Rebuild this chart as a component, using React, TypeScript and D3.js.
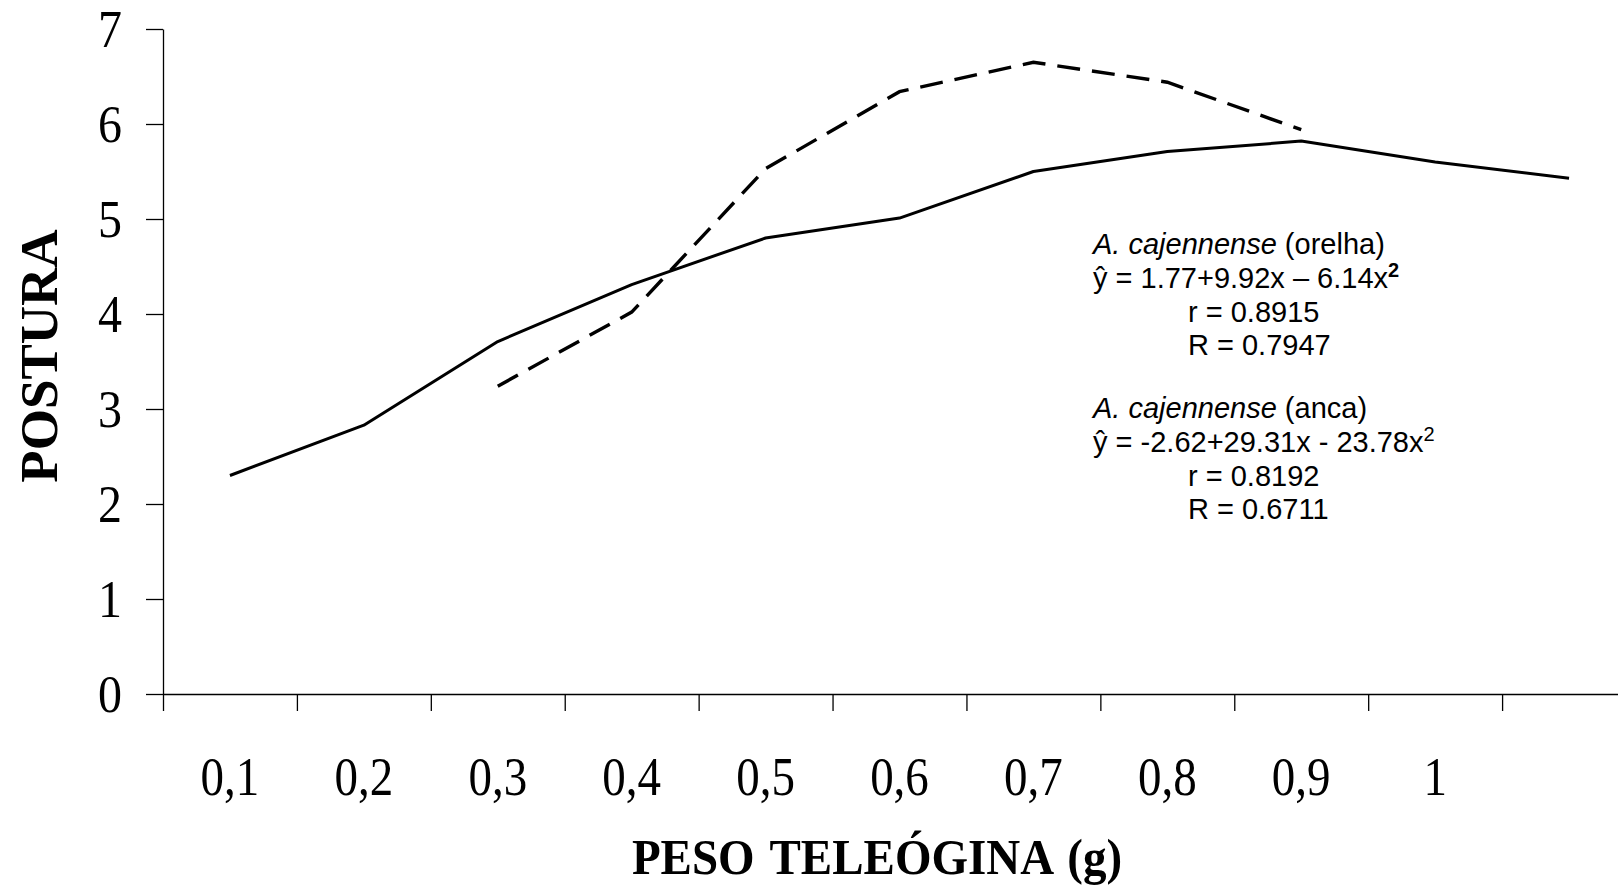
import React, { useRef, useEffect } from 'react'
import * as d3 from 'd3'

// categories on the x axis (the 11th has no label, it is cut at the right edge)
const categories = ['0,1', '0,2', '0,3', '0,4', '0,5', '0,6', '0,7', '0,8', '0,9', '1', '']
// solid line: A. cajennense (orelha)
const orelha = [2.3, 2.83, 3.71, 4.31, 4.8, 5.01, 5.5, 5.71, 5.82, 5.6, 5.43]
// dashed line: A. cajennense (anca)
const anca = [null, null, 3.24, 4.02, 5.53, 6.34, 6.65, 6.44, 5.94, null, null]
const yTicks = [0, 1, 2, 3, 4, 5, 6, 7]

const notes = [
  { species: 'A. cajennense', site: ' (orelha)', eq: 'ŷ = 1.77+9.92x – 6.14x', supBold: true, r: 'r = 0.8915', R: 'R = 0.7947' },
  { species: 'A. cajennense', site: ' (anca)', eq: 'ŷ = -2.62+29.31x - 23.78x', supBold: false, r: 'r = 0.8192', R: 'R = 0.6711' },
]

export default function App() {
  const svgRef = useRef<SVGSVGElement>(null)
  const width = 1618
  const height = 887

  useEffect(() => {
    const svg = d3.select(svgRef.current)
    svg.selectAll('*').remove()

    const left = 163, right = 1636, top = 29, bottom = 694

    // x: category index, ticks on the boundaries
    const xi = d3.scaleLinear().domain([0, categories.length]).range([left, right])
    const y = d3.scaleLinear().domain([0, 7]).range([bottom, top])

    // axes
    const yAx = svg.append('g')
      .attr('transform', `translate(${left},0)`)
      .call(d3.axisLeft(y).tickValues(yTicks).tickSize(17).tickSizeOuter(0).tickFormat(() => ''))
    const xAx = svg.append('g')
      .attr('transform', `translate(0,${bottom})`)
      .call(d3.axisBottom(xi).tickValues(d3.range(categories.length + 1)).tickSize(17).tickSizeOuter(0).tickFormat(() => ''))
    ;[yAx, xAx].forEach(a => {
      a.selectAll('path, line').attr('stroke', '#000').attr('stroke-width', 1.3)
    })

    // y tick labels
    svg.append('g').selectAll('g')
      .data(yTicks)
      .join('g')
        .attr('transform', d => `translate(122,${y(d) + 18})`)
      .append('text')
        .attr('text-anchor', 'end')
        .attr('transform', 'scale(1,1.12)')
        .style('font-family', '"Liberation Serif", "Times New Roman", serif')
        .style('font-size', '48px')
        .text(d => d)

    // x tick labels
    svg.append('g').selectAll('g')
      .data(categories)
      .join('g')
        .attr('transform', (d, i) => `translate(${xi(i + 0.5)},795)`)
      .append('text')
        .attr('text-anchor', 'middle')
        .attr('transform', 'scale(1,1.18)')
        .style('font-family', '"Liberation Serif", "Times New Roman", serif')
        .style('font-size', '47px')
        .text(d => d)

    // axis titles
    svg.append('text')
      .attr('transform', 'translate(57,356) rotate(-90)')
      .attr('text-anchor', 'middle')
      .style('font-family', '"Liberation Serif", "Times New Roman", serif')
      .style('font-size', '53px')
      .style('font-weight', 'bold')
      .text('POSTURA')

    svg.append('g')
      .attr('transform', 'translate(877,874)')
      .append('text')
        .attr('text-anchor', 'middle')
        .attr('transform', 'scale(1,1.1)')
        .style('font-family', '"Liberation Serif", "Times New Roman", serif')
        .style('font-size', '47px')
        .style('font-weight', 'bold')
        .style('word-spacing', '4px')
        .text('PESO TELEÓGINA (g)')

    // lines
    const line = d3.line<number | null>()
      .defined(d => d != null)
      .x((d, i) => xi(i + 0.5))
      .y(d => y(d as number))

    svg.append('path')
      .attr('fill', 'none')
      .attr('stroke', '#000')
      .attr('stroke-width', 3)
      .attr('stroke-linejoin', 'round')
      .attr('d', line(orelha))

    svg.append('path')
      .attr('fill', 'none')
      .attr('stroke', '#000')
      .attr('stroke-width', 3.4)
      .attr('stroke-dasharray', '23 12')
      .attr('d', line(anca))

    // regression notes
    const g = svg.append('g')
      .style('font-family', '"Liberation Sans", Arial, sans-serif')
      .style('font-size', '29px')
      .attr('fill', '#000')
    const base = [254, 418]
    notes.forEach((n, k) => {
      const b = base[k]
      const t1 = g.append('text').attr('x', 1093).attr('y', b)
      t1.append('tspan').style('font-style', 'italic').text(n.species)
      t1.append('tspan').text(n.site)
      const t2 = g.append('text').attr('x', 1093).attr('y', b + 34)
      t2.append('tspan').text(n.eq)
      t2.append('tspan')
        .attr('dy', -11)
        .style('font-size', '20px')
        .style('font-weight', n.supBold ? 'bold' : 'normal')
        .text('2')
      g.append('text').attr('x', 1188).attr('y', b + 68).text(n.r)
      g.append('text').attr('x', 1188).attr('y', b + 101).text(n.R)
    })
  }, [])

  return (
    <svg
      ref={svgRef}
      width={width}
      height={height}
      style={{ position: 'absolute', left: 0, top: 0, display: 'block', background: '#fff' }}
    />
  )
}
